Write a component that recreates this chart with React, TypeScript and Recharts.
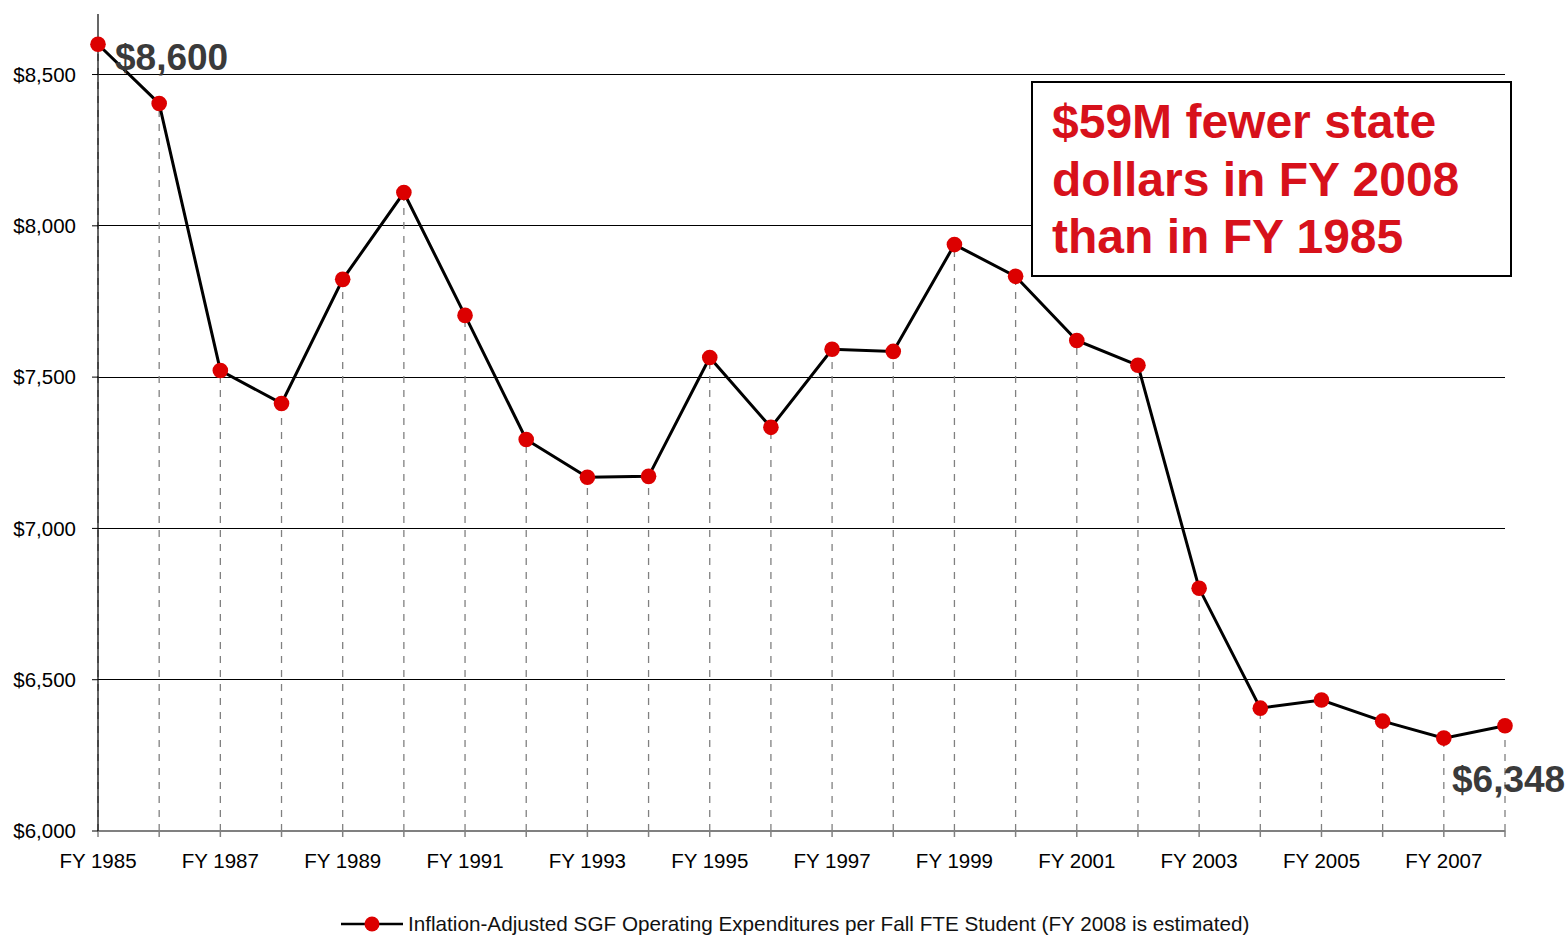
import React from 'react';
import { LineChart, Line, XAxis, YAxis, CartesianGrid, ErrorBar, LabelList } from 'recharts';

const years = [
  'FY 1985', 'FY 1986', 'FY 1987', 'FY 1988', 'FY 1989', 'FY 1990', 'FY 1991', 'FY 1992',
  'FY 1993', 'FY 1994', 'FY 1995', 'FY 1996', 'FY 1997', 'FY 1998', 'FY 1999', 'FY 2000',
  'FY 2001', 'FY 2002', 'FY 2003', 'FY 2004', 'FY 2005', 'FY 2006', 'FY 2007', 'FY 2008',
];
const spending = [
  8600, 8404, 7522, 7413, 7823, 8110, 7704, 7294,
  7169, 7172, 7565, 7334, 7592, 7585, 7938, 7833,
  7621, 7539, 6802, 6406, 6433, 6363, 6307, 6348,
];
const yTicks = [6000, 6500, 7000, 7500, 8000, 8500];
const yDomain: [number, number] = [6000, 8700];
const legendLabel = 'Inflation-Adjusted SGF Operating Expenditures per Fall FTE Student (FY 2008 is estimated)';
const annotationLines = ['$59M fewer state', 'dollars in FY 2008', 'than in FY 1985'];

const data = years.map((year, i) => ({
  year,
  value: spending[i],
  drop: [spending[i] - yDomain[0], 0],
}));

const FONT = "Arial, 'Liberation Sans', Helvetica, sans-serif";
const RED = '#dc0000';
const TEXT_RED = '#d7111b';

const money = (v: number) => '$' + v.toLocaleString('en-US');

const renderEndLabel = (props: any) => {
  const { x, y, index, value } = props;
  const style = { fontFamily: FONT, fontWeight: 700, fontSize: 37, fill: '#3a3a3a' } as const;
  if (index === 0) {
    return <text x={x + 17} y={y + 26} style={style}>{money(value)}</text>;
  }
  if (index === spending.length - 1) {
    return <text x={x - 53} y={y + 66} style={style}>{money(value)}</text>;
  }
  return null;
};

export default function App() {
  return (
    <div style={{ position: 'relative', width: 1568, height: 938, background: '#fff', fontFamily: FONT }}>
      <style>{'body{margin:0;}'}</style>
      <LineChart width={1568} height={938} data={data} margin={{ top: 14, right: 63, bottom: 0, left: 0 }}>
        <CartesianGrid vertical={false} syncWithTicks stroke="#000" strokeWidth={1} shapeRendering="crispEdges" />
        <XAxis
          dataKey="year"
          interval={0}
          height={107}
          tickSize={6}
          tickMargin={16}
          axisLine={{ stroke: '#808080', strokeWidth: 2 }}
          tickLine={{ stroke: '#808080', strokeWidth: 1.5 }}
          tick={{ fontSize: 20.5, fill: '#000', fontFamily: FONT }}
          tickFormatter={(v: string, i: number) => (i % 2 === 0 ? v : '')}
        />
        <YAxis
          width={98}
          domain={yDomain}
          ticks={yTicks}
          allowDataOverflow
          tickSize={6}
          tickMargin={16}
          axisLine={{ stroke: '#000', strokeWidth: 1.2 }}
          tickLine={{ stroke: '#000', strokeWidth: 1 }}
          tick={{ fontSize: 20.5, fill: '#000', fontFamily: FONT }}
          tickFormatter={(v: number) => money(v)}
        />
        <Line
          type="linear"
          dataKey="value"
          stroke="#000"
          strokeWidth={3}
          isAnimationActive={false}
          dot={{ r: 7.8, fill: RED, stroke: RED, strokeWidth: 0 }}
          activeDot={false}
        >
          <ErrorBar
            dataKey="drop"
            direction="y"
            width={0}
            stroke="#808080"
            strokeWidth={1.3}
            strokeDasharray="7 7"
            isAnimationActive={false}
          />
          <LabelList dataKey="value" content={renderEndLabel} />
        </Line>
      </LineChart>

      <div
        style={{
          position: 'absolute',
          left: 1031,
          top: 81,
          width: 481,
          height: 196,
          boxSizing: 'border-box',
          border: '2.5px solid #000',
          background: '#fff',
          color: TEXT_RED,
          fontWeight: 700,
          fontSize: 48,
          lineHeight: '57.5px',
          padding: '10px 0 0 19px',
          whiteSpace: 'nowrap',
        }}
      >
        {annotationLines.map((l) => (
          <div key={l}>{l}</div>
        ))}
      </div>

      <div
        style={{
          position: 'absolute',
          left: 341,
          top: 912,
          height: 24,
          display: 'flex',
          alignItems: 'center',
          whiteSpace: 'nowrap',
        }}
      >
        <svg width={62} height={24} style={{ display: 'block' }}>
          <line x1={0} y1={12} x2={62} y2={12} stroke="#000" strokeWidth={2.5} />
          <circle cx={31} cy={12} r={7.5} fill={RED} />
        </svg>
        <span style={{ marginLeft: 5, fontSize: 20.7, color: '#111' }}>{legendLabel}</span>
      </div>
    </div>
  );
}
